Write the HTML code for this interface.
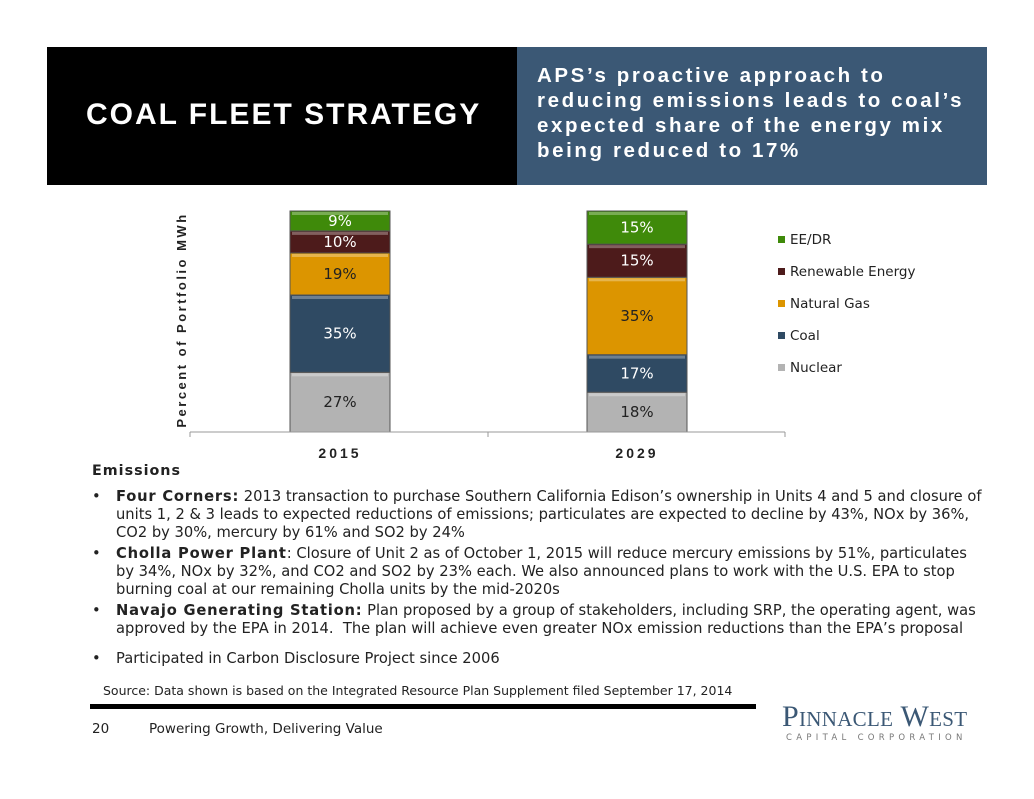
<!DOCTYPE html>
<html><head><meta charset="utf-8"><style>
body{margin:0;width:1034px;height:799px;background:#fff;position:relative;overflow:hidden;font-family:"DejaVu Sans","Liberation Sans",sans-serif}
.abs{position:absolute}
.hdr-l{left:47px;top:47px;width:470px;height:138px;background:#000}
.hdr-r{left:517px;top:47px;width:470px;height:138px;background:#3b5875}
.title{left:86px;top:98px;color:#fff;font:bold 30px "Liberation Sans",sans-serif;letter-spacing:2px}
.sub{left:537px;top:63px;color:#fff;font:bold 20.5px "Liberation Sans",sans-serif;letter-spacing:2.6px;line-height:25px;width:440px}
.body{left:92px;top:462px;width:896px;font-size:14.7px;color:#222;line-height:18px}
.b{position:absolute;left:0;width:896px;padding-left:24px;box-sizing:border-box}
.b:before{content:"•";position:absolute;left:0}
</style></head><body>
<div class="abs hdr-l"></div>
<div class="abs hdr-r"></div>
<div class="abs title">COAL FLEET STRATEGY</div>
<div class="abs sub">APS’s proactive approach to reducing emissions leads to coal’s expected share of the energy mix being reduced to 17%</div>

<svg class="abs" style="left:0;top:0" width="1034" height="470">
<g id="chart"></g>
</svg>

<div class="abs body">
<div style="position:absolute;top:0;font-weight:bold;letter-spacing:1px;font-size:14.3px">Emissions</div>
<div class="b" style="top:26px"><b style="letter-spacing:.8px">Four Corners:</b> 2013 transaction to purchase Southern California Edison’s ownership in Units 4 and 5 and closure of units 1, 2 &amp; 3 leads to expected reductions of emissions; particulates are expected to decline by 43%, NOx by 36%, CO2 by 30%, mercury by 61% and SO2 by 24%</div>
<div class="b" style="top:83px"><b style="letter-spacing:.8px">Cholla Power Plant</b>: Closure of Unit 2 as of October 1, 2015 will reduce mercury emissions by 51%, particulates by 34%, NOx by 32%, and CO2 and SO2 by 23% each. We also announced plans to work with the U.S. EPA to stop burning coal at our remaining Cholla units by the mid-2020s</div>
<div class="b" style="top:140px"><b style="letter-spacing:.8px">Navajo Generating Station:</b> Plan proposed by a group of stakeholders, including SRP, the operating agent, was approved by the EPA in 2014.&nbsp; The plan will achieve even greater NOx emission reductions than the EPA’s proposal</div>
<div class="b" style="top:188px">Participated in Carbon Disclosure Project since 2006</div>
</div>
<div class="abs" style="left:103px;top:683px;font-size:12.5px;color:#222">Source: Data shown is based on the Integrated Resource Plan Supplement filed September 17, 2014</div>
<div class="abs" style="left:90px;top:704px;width:666px;height:5px;background:#000"></div>
<div class="abs" style="left:92px;top:721px;font-size:13.5px;color:#222">20</div>
<div class="abs" style="left:149px;top:721px;font-size:13.5px;color:#222">Powering Growth, Delivering Value</div>
<div class="abs" style="left:782px;top:700px;font:30px 'Liberation Serif',serif;color:#3b5875;letter-spacing:0.3px;font-variant:small-caps;white-space:nowrap">Pinnacle West</div>
<div class="abs" style="left:786px;top:733px;font-size:8.5px;color:#777;letter-spacing:4.3px;white-space:nowrap">CAPITAL CORPORATION</div>

<script>
const categories=["2015","2029"];
const seriesNames=["Nuclear","Coal","Natural Gas","Renewable Energy","EE/DR"];
const nuclear=[27,18];
const coal=[35,17];
const gas=[19,35];
const renewable=[10,15];
const eedr=[9,15];
const series=[nuclear,coal,gas,renewable,eedr];
const colors=["#b3b3b3","#2f4a63","#dc9500","#4d1b1b","#3f8a0a"];
const textColors=["#222","#fff","#222","#fff","#fff"];
const ns="http://www.w3.org/2000/svg";
const g=document.getElementById('chart');
const base=432, pxPer=2.21;
const y=v=>base-v*pxPer;
const xCenter=i=>340+i*297;
const bw=100;
function el(t,a){const e=document.createElementNS(ns,t);for(const k in a)e.setAttribute(k,a[k]);g.appendChild(e);return e;}
categories.forEach((c,i)=>{
 let cum=0;
 series.forEach((s,j)=>{
  const v=s[i];const y0=y(cum),y1=y(cum+v);
  const r=el('rect',{x:xCenter(i)-bw/2,y:y1,width:bw,height:y0-y1,fill:colors[j],stroke:'#555','stroke-width':1});
  
  
  const hl=el('rect',{x:xCenter(i)-bw/2+2,y:y1+1,width:bw-4,height:3,fill:'#fff',opacity:0.3});
  
  
  const t=el('text',{x:xCenter(i),y:(y0+y1)/2+5,'text-anchor':'middle','font-size':15,fill:textColors[j],'font-family':'DejaVu Sans, sans-serif'});
  t.textContent=v+'%';
  
  
  cum+=v;
 });
 const tl=el('text',{x:xCenter(i),y:458,'text-anchor':'middle','font-size':14,'font-weight':'bold','letter-spacing':3,fill:'#222','font-family':'Liberation Sans, sans-serif'});
 tl.textContent=c;
 
 
});
const ax=el('line',{x1:190,x2:785,y1:base,y2:base,stroke:'#999'});


[190,488,785].forEach(x=>{const t=el('line',{x1:x,x2:x,y1:base,y2:base+5,stroke:'#999'});
 
 });
const yt=el('text',{x:0,y:0,transform:'translate(186,320) rotate(-90)','text-anchor':'middle','font-size':13,'font-weight':'bold','letter-spacing':2.5,fill:'#222','font-family':'Liberation Sans, sans-serif'});
yt.textContent='Percent of Portfolio MWh';


for(let j=4;j>=0;j--){
 const ly=241+(4-j)*32;
 const sw=el('rect',{x:778,y:ly-5,width:7,height:7,fill:colors[j]});
 
 
 const lt=el('text',{x:790,y:ly+3,'font-size':13.5,fill:'#222','font-family':'DejaVu Sans, sans-serif'});
 lt.textContent=seriesNames[j];
 
 
}
</script>
</body></html>
